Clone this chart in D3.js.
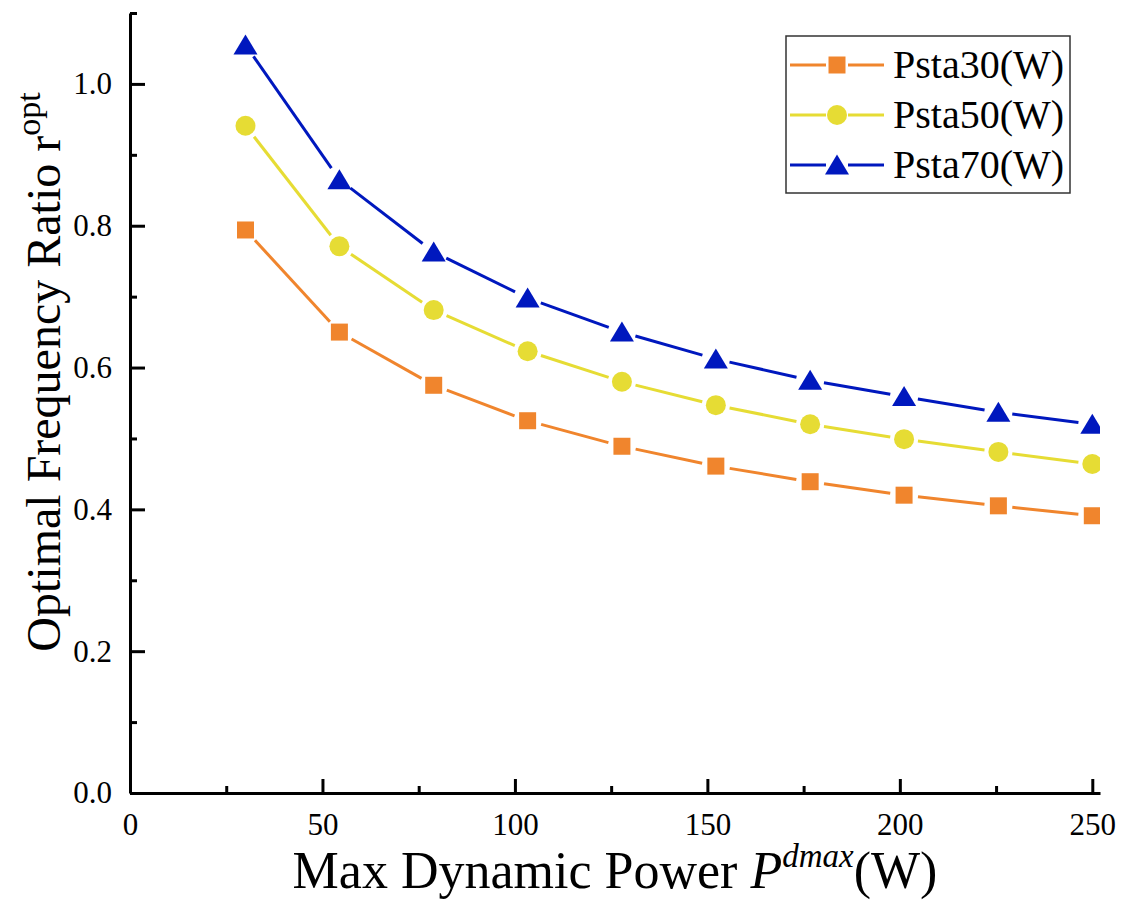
<!DOCTYPE html>
<html>
<head>
<meta charset="utf-8">
<script src="https://cdn.jsdelivr.net/npm/d3@7"></script>
<style>
  body { margin: 0; background: #fff; }
  svg text { font-family: "Liberation Serif", "Times New Roman", serif; fill: #000; }
</style>
</head>
<body>
<div id="chart"></div>
<script>
// x values (Max Dynamic Power, W)
var powerX = [30, 54.4, 78.9, 103.3, 127.8, 152.2, 176.7, 201.1, 225.6, 250];
// optimal frequency ratio per static power
var psta30 = [0.794, 0.650, 0.575, 0.525, 0.489, 0.461, 0.439, 0.420, 0.405, 0.391];
var psta50 = [0.941, 0.771, 0.681, 0.623, 0.580, 0.547, 0.520, 0.499, 0.481, 0.464];
var psta70 = [1.055, 0.865, 0.763, 0.698, 0.650, 0.612, 0.582, 0.559, 0.537, 0.520];
var seriesNames = ["Psta30(W)", "Psta50(W)", "Psta70(W)"];

var xMajor = [0, 50, 100, 150, 200, 250];
var xMinor = [25, 75, 125, 175, 225];
var yMajor = [0, 0.2, 0.4, 0.6, 0.8, 1.0];
var yMinor = [0.1, 0.3, 0.5, 0.7, 0.9, 1.1];

var width = 1122, height = 902;
var plotLeft = 130, plotRight = 1100, plotTop = 13, plotBottom = 793;

var series = [
  { name: seriesNames[0], values: psta30, color: "#f0852d", shape: "square" },
  { name: seriesNames[1], values: psta50, color: "#e6dc34", shape: "circle" },
  { name: seriesNames[2], values: psta70, color: "#0018be", shape: "triangle" }
];

var xScale = d3.scaleLinear().domain([0, 252]).range([plotLeft, plotRight]);
var yScale = d3.scaleLinear().domain([0, 1.1]).range([plotBottom, plotTop]);

var svg = d3.select("#chart").append("svg")
    .attr("width", width)
    .attr("height", height);

svg.append("defs").append("clipPath").attr("id", "plotclip")
  .append("rect")
    .attr("x", plotLeft).attr("y", 0)
    .attr("width", plotRight - plotLeft).attr("height", plotBottom);

var symbolFor = shape => {
  if (shape == "square") return d3.symbol().type(d3.symbolSquare).size(17 * 17)();
  if (shape == "circle") return d3.symbol().type(d3.symbolCircle).size(Math.PI * 10 * 10)();
  // triangle, centred on its bounding box
  return "M0,-10.5L12,9.5L-12,9.5Z";
};

// lines with small gaps around the markers
var gap = 14;
var plot = svg.append("g").attr("clip-path", "url(#plotclip)");

series.forEach(s => {
  var pts = s.values.map((v, i) => [xScale(powerX[i]), yScale(v)]);
  var segs = d3.pairs(pts).map(([a, b]) => {
    var dx = b[0] - a[0], dy = b[1] - a[1];
    var len = Math.sqrt(dx * dx + dy * dy);
    var ux = dx / len, uy = dy / len;
    return [[a[0] + ux * gap, a[1] + uy * gap], [b[0] - ux * gap, b[1] - uy * gap]];
  });
  plot.append("g").selectAll("line")
    .data(segs).enter()
    .append("line")
      .attr("x1", d => d[0][0]).attr("y1", d => d[0][1])
      .attr("x2", d => d[1][0]).attr("y2", d => d[1][1])
      .style("stroke", s.color)
      .style("stroke-width", 3);
  plot.append("g").selectAll("path")
    .data(pts).enter()
    .append("path")
      .attr("d", symbolFor(s.shape))
      .attr("transform", d => `translate(${d[0]},${d[1]})`)
      .style("fill", s.color);
});

/* Axes */
var styleAxis = g => {
  g.selectAll("path, line").style("stroke", "#000").style("stroke-width", 3);
  g.selectAll("text").style("font-size", "31px").style("font-family", "Liberation Serif, serif");
};

svg.append("g")
  .attr("transform", `translate(0, ${plotBottom})`)
  .call(d3.axisBottom(xScale).tickValues(xMajor).tickSizeInner(-14).tickSizeOuter(0).tickPadding(20).tickFormat(d3.format("d")))
  .call(styleAxis);
svg.append("g")
  .attr("transform", `translate(0, ${plotBottom})`)
  .call(d3.axisBottom(xScale).tickValues(xMinor).tickSizeInner(-7).tickSizeOuter(0).tickFormat(""))
  .call(g => g.select(".domain").remove())
  .call(styleAxis);

svg.append("g")
  .attr("transform", `translate(${plotLeft}, 0)`)
  .call(d3.axisLeft(yScale).tickValues(yMajor).tickSizeInner(-15).tickSizeOuter(0).tickPadding(18).tickFormat(d3.format(".1f")))
  .call(styleAxis);
svg.append("g")
  .attr("transform", `translate(${plotLeft}, 0)`)
  .call(d3.axisLeft(yScale).tickValues(yMinor).tickSizeInner(-7).tickSizeOuter(0).tickFormat(""))
  .call(g => g.select(".domain").remove())
  .call(styleAxis);

/* Axis titles */
var xt = svg.append("text")
  .attr("x", 615).attr("y", 888)
  .attr("text-anchor", "middle")
  .style("font-size", "52px");
xt.append("tspan").text("Max Dynamic Power ");
xt.append("tspan").style("font-style", "italic").text("P");
xt.append("tspan").style("font-style", "italic").style("font-size", "33px").attr("dy", -21).text("dmax");
xt.append("tspan").attr("dy", 21).text("(W)");

var yt = svg.append("text")
  .attr("transform", "translate(60, 372) rotate(-90)")
  .attr("text-anchor", "middle")
  .style("font-size", "48px");
yt.append("tspan").text("Optimal Frequency Ratio r");
yt.append("tspan").style("font-size", "34px").attr("dy", -20).text("opt");

/* Legend */
var legend = svg.append("g");
legend.append("rect")
  .attr("x", 786).attr("y", 36)
  .attr("width", 284).attr("height", 157)
  .style("fill", "#fff")
  .style("stroke", "#333")
  .style("stroke-width", 1.5);

var entries = legend.selectAll(".entry")
  .data(series).enter()
  .append("g")
  .attr("transform", (d, i) => `translate(0, ${65 + 50 * i})`);
entries.append("line")
  .attr("x1", 790).attr("x2", 826).attr("y1", 0).attr("y2", 0)
  .style("stroke", d => d.color).style("stroke-width", 3);
entries.append("line")
  .attr("x1", 848).attr("x2", 884).attr("y1", 0).attr("y2", 0)
  .style("stroke", d => d.color).style("stroke-width", 3);
entries.append("path")
  .attr("d", d => symbolFor(d.shape))
  .attr("transform", "translate(837, 0)")
  .style("fill", d => d.color);
entries.append("text")
  .attr("x", 893).attr("y", 13)
  .style("font-size", "40px")
  .text(d => d.name);
</script>
</body>
</html>
